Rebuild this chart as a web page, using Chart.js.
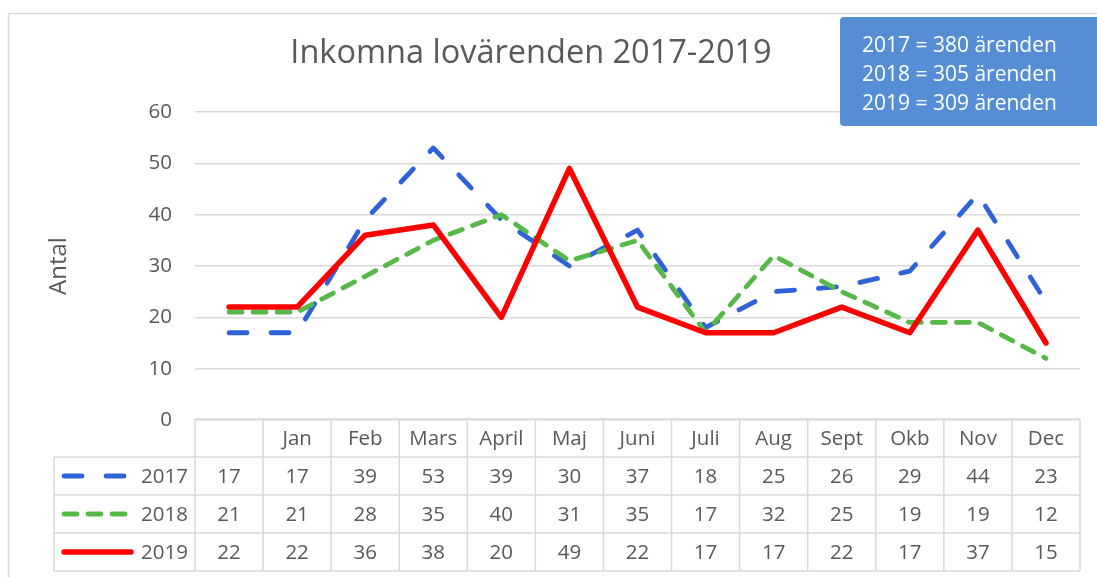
<!DOCTYPE html>
<html>
<head>
<meta charset="utf-8">
<title>Inkomna lovärenden 2017-2019</title>
<script src="https://cdn.jsdelivr.net/npm/chart.js@4"></script>
<style>
    html, body { margin: 0; padding: 0; background: #fff; }
    #chart { display: block; }
</style>
</head>
<body>
<canvas id="chart" width="1097" height="577"></canvas>
<script>
// data
const months     = ['', 'Jan', 'Feb', 'Mars', 'April', 'Maj', 'Juni', 'Juli', 'Aug', 'Sept', 'Okb', 'Nov', 'Dec'];
const years      = ['2017', '2018', '2019'];
const values2017 = [17, 17, 39, 53, 39, 30, 37, 18, 25, 26, 29, 44, 23];
const values2018 = [21, 21, 28, 35, 40, 31, 35, 17, 32, 25, 19, 19, 12];
const values2019 = [22, 22, 36, 38, 20, 49, 22, 17, 17, 22, 17, 37, 15];
const totals     = [380, 305, 309];

const textColor = '#595959';
const lineColor = '#d9d9d9';
const fontFamily = "'Open Sans', 'Liberation Sans', sans-serif";

Chart.defaults.font.family = fontFamily;
Chart.defaults.color = textColor;

const series = [
    {label: years[0], data: values2017, color: '#2d62d8', width: 4.8, dash: [18, 24], order: 3},
    {label: years[1], data: values2018, color: '#56b947', width: 4.8, dash: [13, 11], order: 2},
    {label: years[2], data: values2019, color: '#ff0000', width: 5.5, dash: [],       order: 1}
];

// frame, title, info box and the data table under the plot
const decorations = {
    id: 'decorations',
    beforeDraw(chart) {
        const ctx = chart.ctx;
        ctx.save();
        ctx.strokeStyle = lineColor;
        ctx.lineWidth = 1.5;
        ctx.strokeRect(8.5, 13.5, 1200, 700);
        ctx.restore();
    },
    afterDraw(chart) {
        const ctx = chart.ctx;
        const x = chart.scales.x;
        const area = chart.chartArea;
        const colW = x.getPixelForValue(1) - x.getPixelForValue(0);
        const left = x.getPixelForValue(0) - colW / 2;
        const right = x.getPixelForValue(months.length - 1) + colW / 2;
        const rowH = 38;
        const top = area.bottom - 1;
        const legendLeft = 54;

        ctx.save();

        // title
        ctx.fillStyle = textColor;
        ctx.font = '32.5px ' + fontFamily;
        ctx.textAlign = 'center';
        ctx.textBaseline = 'alphabetic';
        ctx.fillText('Inkomna lovärenden 2017-2019', 531, 63);

        // table grid
        ctx.strokeStyle = lineColor;
        ctx.lineWidth = 1.5;
        ctx.beginPath();
        ctx.moveTo(left, top);
        ctx.lineTo(right, top);
        for (let r = 1; r <= series.length + 1; r++) {
            ctx.moveTo(legendLeft, top + r * rowH);
            ctx.lineTo(right, top + r * rowH);
        }
        for (let i = 0; i <= months.length; i++) {
            ctx.moveTo(left + i * colW, top);
            ctx.lineTo(left + i * colW, top + (series.length + 1) * rowH);
        }
        ctx.moveTo(legendLeft, top + rowH);
        ctx.lineTo(legendLeft, top + (series.length + 1) * rowH);
        ctx.stroke();

        // header
        ctx.font = '20.5px ' + fontFamily;
        ctx.fillStyle = textColor;
        ctx.textAlign = 'center';
        ctx.textBaseline = 'middle';
        months.forEach((m, i) => {
            ctx.fillText(m, x.getPixelForValue(i), top + rowH / 2 + 1);
        });

        // rows
        series.forEach((s, r) => {
            const cy = top + (r + 1.5) * rowH + 1;
            s.data.forEach((v, i) => {
                ctx.fillText(String(v), x.getPixelForValue(i), cy);
            });
            ctx.textAlign = 'right';
            ctx.fillText(s.label, 188, cy);
            ctx.textAlign = 'center';

            ctx.save();
            ctx.strokeStyle = s.color;
            ctx.lineWidth = s.width;
            ctx.lineCap = 'round';
            ctx.setLineDash(s.dash);
            ctx.beginPath();
            ctx.moveTo(64, cy - 1);
            ctx.lineTo(s.dash.length ? 126 : 131, cy - 1);
            ctx.stroke();
            ctx.restore();
        });

        // info box
        ctx.fillStyle = '#558ed5';
        ctx.beginPath();
        ctx.roundRect(840, 17, 280, 109, 4);
        ctx.fill();
        ctx.fillStyle = '#ffffff';
        ctx.font = '21px ' + fontFamily;
        ctx.textAlign = 'left';
        ctx.textBaseline = 'middle';
        years.forEach((y, i) => {
            ctx.fillText(y + ' = ' + totals[i] + ' ärenden', 862, 46 + i * 29);
        });

        ctx.restore();
    }
};

new Chart(document.getElementById('chart'), {
    type: 'line',
    data: {
        labels  : months,
        datasets: series.map(s => ({
            label          : s.label,
            data           : s.data,
            borderColor    : s.color,
            backgroundColor: s.color,
            borderWidth    : s.width,
            borderDash     : s.dash,
            borderCapStyle : 'round',
            borderJoinStyle: 'round',
            pointRadius    : 0,
            tension        : 0,
            fill           : false,
            order          : s.order
        }))
    },
    options: {
        responsive: false,
        animation : false,
        layout    : {padding: {left: 9, right: 17, top: 112, bottom: 0}},
        plugins   : {
            legend : {display: false},
            title  : {display: false},
            tooltip: {enabled: false}
        },
        scales: {
            x: {
                offset : true,
                grid   : {display: false},
                border : {display: false},
                ticks  : {display: false},
                afterFit: (scale) => { scale.height = 157; }
            },
            y: {
                min   : 0,
                max   : 60,
                border: {display: false},
                grid  : {color: lineColor, lineWidth: 1.5, drawTicks: false},
                ticks : {stepSize: 10, padding: 23, font: {size: 20.5}, color: textColor},
                title : {display: true, text: 'Antal', font: {size: 24}, color: textColor, padding: {top: 36}},
                afterFit: (scale) => { scale.width = 186; }
            }
        }
    },
    plugins: [decorations]
});
</script>
</body>
</html>
